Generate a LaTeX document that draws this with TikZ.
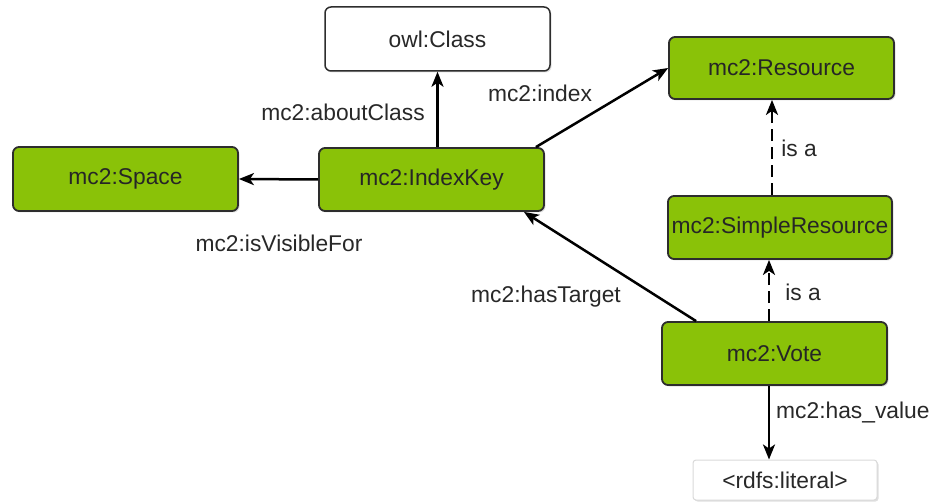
\documentclass[tikz,border=0pt]{standalone}
\usepackage{fontspec}
\setmainfont{Liberation Sans}
\usetikzlibrary{arrows.meta,shadows,calc}
\definecolor{boxgreen}{RGB}{138,194,8}
\definecolor{txtgray}{RGB}{40,40,40}
\definecolor{edgegray}{RGB}{45,45,45}
\begin{document}
\begin{tikzpicture}[x=1pt,y=-1pt,
  font=\fontsize{22.8pt}{26pt}\selectfont,
  base/.style={rounded corners=6pt, inner sep=0pt, anchor=center, text=txtgray,
     drop shadow={opacity=0.25, shadow xshift=1.5pt, shadow yshift=-1.5pt}},
  greenbox/.style={base, draw=edgegray, line width=1.8pt, fill=boxgreen, text=black!85},
  whitebox/.style={base, draw=edgegray, line width=1.5pt, fill=white},
  litbox/.style={base, draw=black!15, line width=1pt, fill=white, rounded corners=3pt},
  lbl/.style={text=txtgray, inner sep=0pt},
  arr/.style={draw=black, line width=2.5pt, -{Stealth[length=15pt,width=12pt,inset=4pt]}},
  dasharr/.style={arr, dash pattern=on 12pt off 6pt}
]
\useasboundingbox (0,0) rectangle (933,502);

\node[whitebox, minimum width=225pt, minimum height=64pt] (owl) at (437.5,39) {owl:Class};
\node[greenbox, minimum width=225pt, minimum height=62pt] (res) at (781.5,68) {mc2:Resource};
\node[greenbox, minimum width=225pt, minimum height=64pt] (sp) at (125.5,179) {mc2:Space};
\node[greenbox, minimum width=225pt, minimum height=63pt] (ik) at (431.5,179.5) {mc2:IndexKey};
\node[greenbox, minimum width=224pt, minimum height=63pt] (sr) at (780,227.5) {mc2:SimpleResource};
\node[greenbox, minimum width=225pt, minimum height=63pt] (vote) at (774.5,353.5) {mc2:Vote};
\node[litbox, minimum width=184pt, minimum height=40pt] (lit) at (785,480) {<rdfs:literal>};

\coordinate (ikTop) at (ik.north -| owl.south);
\draw[arr] (ikTop) -- (owl.south);
\draw[arr] (ik.west) -- (sp.east);
\draw[arr] ([xshift=-9pt]ik.north east) -- (res.west);
\draw[arr] ([xshift=35pt]vote.north west) -- ([xshift=-21pt]ik.south east);

\coordinate (resB) at ([xshift=-9.5pt]res.south);
\coordinate (srT) at (sr.north -| resB);
\draw[dasharr] (srT) -- (resB);
\coordinate (voteT) at ([xshift=-5.5pt]vote.north);
\coordinate (srB) at (sr.south -| voteT);
\draw[dasharr] (voteT) -- (srB);
\coordinate (voteB) at ([xshift=-5.5pt]vote.south);
\coordinate (litT) at (lit.north -| voteB);
\draw[arr] (voteB) -- (litT);

\node[lbl] (l1) at (343,112) {mc2:aboutClass};
\node[lbl] (l2) at (279,243) {mc2:isVisibleFor};
\node[lbl] (l3) at (540,93) {mc2:index};
\node[lbl] (l4) at (546,297) {mc2:hasTarget};
\node[lbl] (l5) at (799,148) {is a};
\node[lbl] (l6) at (803,292) {is a};
\node[lbl, anchor=west] (l7) at (776,413) {mc2:has\_value};
\end{tikzpicture}
\end{document}
